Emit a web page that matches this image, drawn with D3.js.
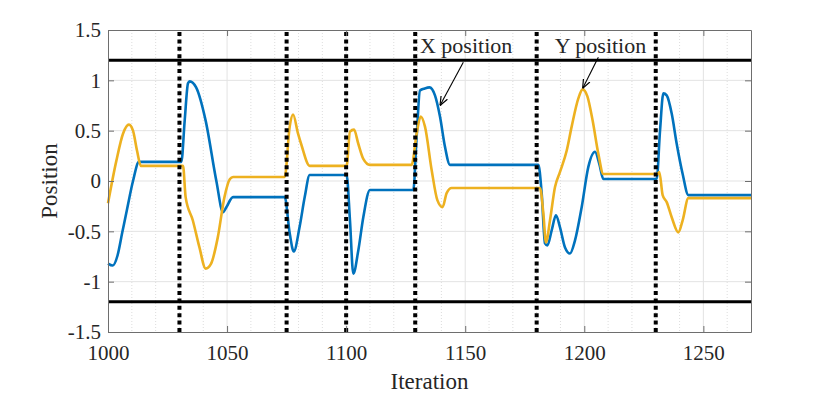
<!DOCTYPE html>
<html lang="en">
<head>
  <meta charset="UTF-8">
  <title>Position vs Iteration</title>
  <style>
    body { margin: 0; background: #fff; }
    svg text { font-family: "Liberation Serif", "Times New Roman", serif; fill: #262626; }
  </style>
  <script src="https://d3js.org/d3.v7.min.js"></script>
</head>
<body>
  <div id="chart"></div>
  <script>
    // Data
    const blueX = [1000, 1002, 1004, 1006, 1008, 1010.5, 1013,
      1030.8, 1032.2, 1033.6, 1034.3, 1037, 1041, 1045.5, 1048.3, 1049.7, 1052.5,
      1074.2, 1076.3, 1078, 1080.5, 1082.6, 1084.7,
      1100.2, 1101.6, 1103, 1105.1, 1107.2, 1110,
      1128.2, 1129.6, 1131, 1133, 1135, 1137.3, 1139.4, 1141.5, 1143.6,
      1180.7, 1182.1, 1183.5, 1184.5, 1186.3, 1188.1, 1189.8, 1191.9, 1194, 1196.1, 1198.9, 1201.7, 1204.5, 1206.3, 1208,
      1230.4, 1231.8, 1233.2, 1234.6, 1236.7, 1238.8, 1241.3, 1243.7, 1270];
    const blueY = [-0.82, -0.84, -0.74, -0.51, -0.28, 0.0, 0.19,
      0.19, 0.60, 0.97, 0.99, 0.93, 0.60, 0.0, -0.31, -0.26, -0.16,
      -0.16, -0.52, -0.70, -0.45, -0.16, 0.06,
      0.06, -0.39, -0.92, -0.69, -0.36, -0.09,
      -0.09, 0.44, 0.90, 0.92, 0.93, 0.85, 0.64, 0.34, 0.16,
      0.16, -0.12, -0.62, -0.64, -0.49, -0.34, -0.46, -0.66, -0.72, -0.59, -0.26, 0.14, 0.29, 0.17, 0.02,
      0.02, 0.50, 0.87, 0.85, 0.67, 0.37, 0.07, -0.14, -0.14];

    const yelX = [1000, 1003.5, 1006.3, 1008.8, 1010.5, 1012.2, 1013.8,
      1031.5, 1032.6, 1035.6, 1038.4, 1041, 1043.3, 1046.1, 1048.9, 1051.2, 1052.5,
      1074.2, 1076.3, 1077.7, 1079.8, 1081.2, 1084.7,
      1100.2, 1101.6, 1103.3, 1105.1, 1107.2, 1110,
      1127.5, 1129.6, 1131.3, 1133.1, 1135.9, 1138.3, 1140.5, 1142.2, 1144.3,
      1181.4, 1182.8, 1183.9, 1185.6, 1187.7, 1189.8, 1192.6, 1194.7, 1197.5, 1199.3, 1201.3, 1203.5, 1205.9, 1208,
      1230.7, 1231.5, 1232.9, 1234.6, 1236.7, 1239.5, 1241.3, 1243.7, 1270];
    const yelY = [-0.22, 0.20, 0.47, 0.56, 0.50, 0.30, 0.15,
      0.15, -0.16, -0.39, -0.66, -0.87, -0.82, -0.56, -0.16, 0.02, 0.04,
      0.04, 0.54, 0.66, 0.47, 0.36, 0.15,
      0.15, 0.49, 0.51, 0.37, 0.22, 0.16,
      0.16, 0.47, 0.64, 0.54, 0.11, -0.19, -0.26, -0.12, -0.07,
      -0.07, -0.32, -0.61, -0.39, -0.06, 0.09, 0.30, 0.54, 0.82, 0.91, 0.84, 0.60, 0.27, 0.07,
      0.07, 0.09, -0.14, -0.21, -0.36, -0.51, -0.39, -0.17, -0.17];

    const eventIters = [1030, 1075, 1100, 1129, 1180, 1230];
    const bounds = [1.2, -1.2];
    const xTicks = [1000, 1050, 1100, 1150, 1200, 1250];
    const xMinor = d3.range(1010, 1270, 10);
    const yTicks = [-1.5, -1, -0.5, 0, 0.5, 1, 1.5];

    // annotations: [label, text x, text y, arrow from x, y, arrow to x, y]
    const notes = [
      ['X position', 1131, 1.27, 1149.2, 1.18, 1139.4, 0.75],
      ['Y position', 1187.6, 1.27, 1205.9, 1.23, 1199.3, 0.92]
    ];

    const width = 830, height = 393;
    const margin = { top: 30, right: 79, bottom: 61, left: 108 };
    const w = width - margin.left - margin.right;
    const h = height - margin.top - margin.bottom;

    const svg = d3.select('#chart').append('svg')
      .attr('width', width).attr('height', height);

    svg.append('defs').append('marker')
      .attr('id', 'arrow').attr('viewBox', '0 0 10 10')
      .attr('refX', 10).attr('refY', 5)
      .attr('markerWidth', 9).attr('markerHeight', 9)
      .attr('markerUnits', 'userSpaceOnUse')
      .attr('orient', 'auto')
      .append('path').attr('d', 'M0,1 L10,5 L0,9').attr('fill', 'none')
      .attr('stroke', '#000').attr('stroke-width', 1.3);

    const g = svg.append('g').attr('transform', `translate(${margin.left},${margin.top})`);

    const x = d3.scaleLinear().domain([1000, 1270]).range([0, w]);
    const y = d3.scaleLinear().domain([-1.5, 1.5]).range([h, 0]);

    // minor grid
    g.append('g').selectAll('line').data(xMinor.filter(v => !xTicks.includes(v)))
      .enter().append('line')
      .attr('x1', d => x(d)).attr('x2', d => x(d)).attr('y1', 0).attr('y2', h)
      .attr('stroke', '#d4d4d4').attr('stroke-width', 0.8).attr('stroke-dasharray', '1,2');

    // major grid
    g.append('g').selectAll('line').data(xTicks.slice(1))
      .enter().append('line')
      .attr('x1', d => x(d)).attr('x2', d => x(d)).attr('y1', 0).attr('y2', h)
      .attr('stroke', '#e3e3e3').attr('stroke-width', 1);
    g.append('g').selectAll('line').data(yTicks.slice(1, -1))
      .enter().append('line')
      .attr('x1', 0).attr('x2', w).attr('y1', d => y(d)).attr('y2', d => y(d))
      .attr('stroke', '#e3e3e3').attr('stroke-width', 1);

    // curves
    const line = d3.line().x(d => x(d[0])).y(d => y(d[1])).curve(d3.curveMonotoneX);
    g.append('path').datum(d3.zip(blueX, blueY))
      .attr('d', line).attr('fill', 'none')
      .attr('stroke', '#0072BD').attr('stroke-width', 2.6).attr('stroke-linejoin', 'round');
    g.append('path').datum(d3.zip(yelX, yelY))
      .attr('d', line).attr('fill', 'none')
      .attr('stroke', '#EDB120').attr('stroke-width', 2.6).attr('stroke-linejoin', 'round');

    // position limits
    g.append('g').selectAll('line').data(bounds)
      .enter().append('line')
      .attr('x1', 0).attr('x2', w).attr('y1', d => y(d)).attr('y2', d => y(d))
      .attr('stroke', '#000').attr('stroke-width', 3);

    // event markers
    g.append('g').selectAll('line').data(eventIters)
      .enter().append('line')
      .attr('x1', d => x(d)).attr('x2', d => x(d)).attr('y1', 2).attr('y2', h)
      .attr('stroke', '#000').attr('stroke-width', 4).attr('stroke-dasharray', '4,3.4');

    // axes
    const xAxis = g.append('g').attr('transform', `translate(0,${h})`)
      .call(d3.axisBottom(x).tickValues(xTicks).tickFormat(d3.format('d'))
        .tickSizeInner(-6).tickSizeOuter(0).tickPadding(13));
    const yAxis = g.append('g')
      .call(d3.axisLeft(y).tickValues(yTicks).tickFormat(d => d).tickSizeInner(-6).tickSizeOuter(0).tickPadding(7));
    g.append('g')
      .call(d3.axisTop(x).tickValues(xTicks).tickFormat('').tickSizeInner(-6).tickSizeOuter(0));
    g.append('g').attr('transform', `translate(${w},0)`)
      .call(d3.axisRight(y).tickValues(yTicks).tickFormat('').tickSizeInner(-6).tickSizeOuter(0));
    g.selectAll('.domain').attr('stroke', '#6e6e6e');
    g.selectAll('.tick line').attr('stroke', '#6e6e6e');
    xAxis.selectAll('text').style('font-size', '21px').attr('dy', '0.71em');
    yAxis.selectAll('text').style('font-size', '21px');
    [xAxis, yAxis].forEach(a => a.selectAll('text').attr('fill', '#262626'));

    // axis titles
    svg.append('text').attr('x', margin.left + w / 2).attr('y', 389)
      .attr('text-anchor', 'middle').style('font-size', '23px').text('Iteration');
    svg.append('text')
      .attr('transform', `translate(57,${margin.top + y(0)}) rotate(-90)`)
      .attr('text-anchor', 'middle').style('font-size', '23px').text('Position');

    // annotations
    notes.forEach(([label, tx, ty, ax, ay, bx, by]) => {
      g.append('text').attr('x', x(tx)).attr('y', y(ty))
        .style('font-size', '22px').attr('fill', '#000').text(label);
      g.append('line')
        .attr('x1', x(ax)).attr('y1', y(ay)).attr('x2', x(bx)).attr('y2', y(by))
        .attr('stroke', '#000').attr('stroke-width', 1.1).attr('marker-end', 'url(#arrow)');
    });
  </script>
</body>
</html>
